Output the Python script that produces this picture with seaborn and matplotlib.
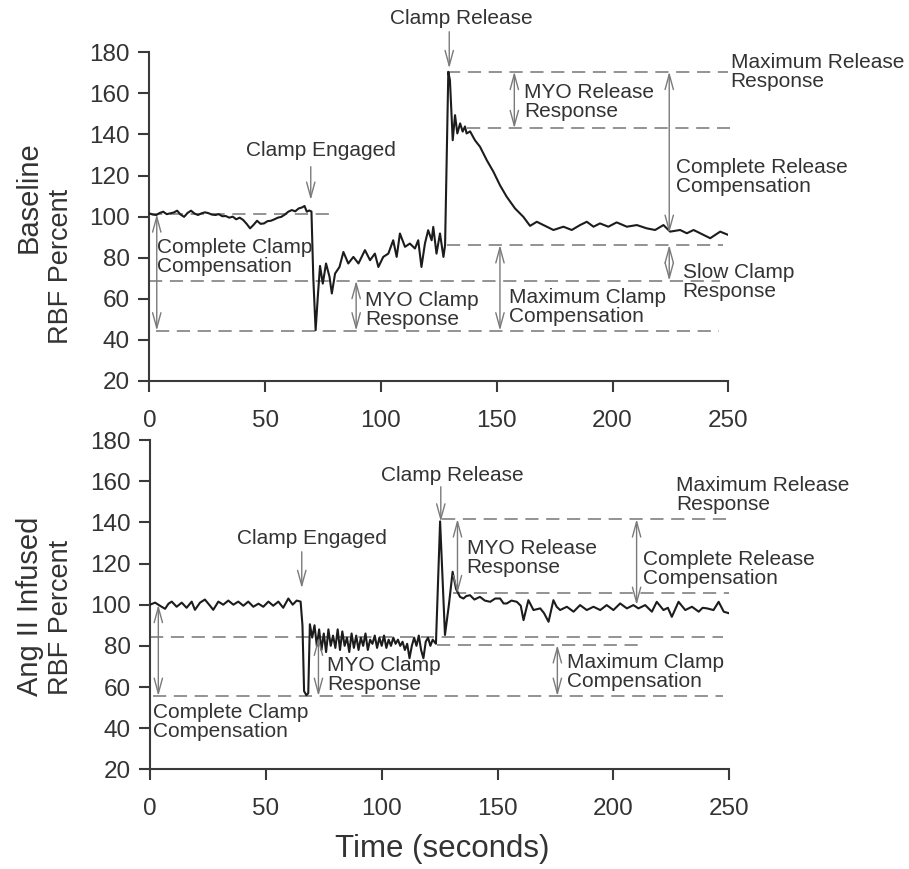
import matplotlib
matplotlib.use("Agg")
import matplotlib.pyplot as plt
import seaborn as sns
import pandas as pd

# ---------------- data ----------------
# Baseline renal blood flow trace (time in s, RBF in % of baseline)
baseline_time = [0, 1.5, 3, 4.5, 6, 7.5, 9, 10.5, 12, 13.5, 15, 16.5, 18, 19.5, 21, 22.5,
                 24, 25.5, 27, 28.5, 30, 31.5, 33, 34.5, 36, 37.5, 39, 40.5, 42, 43.5, 45,
                 46.5, 48, 49.5, 51, 52.5, 54, 55.5, 57, 58.5, 60, 61.5, 63, 64.5, 66, 67,
                 68, 69, 70, 70.8, 71.8, 72.8, 73.7, 74.9, 76.3, 77.8, 78.8, 80.2, 82.1,
                 83.8, 85.9, 88.1, 90.3, 93.1, 95.3, 97.4, 98.9, 101, 103.2, 105.3, 106.8,
                 108.2, 110.4, 112.5, 114.7, 116.1, 117.5, 119, 120.4, 121.9, 122.6, 124,
                 125.5, 127, 127.7, 129.1, 129.8, 131, 132, 133, 134.2, 135.3, 136.3, 137,
                 138.5, 140.6, 142.8, 145.7, 148.6, 151.4, 154.3, 157.9, 161.5, 164.4,
                 167.3, 170.2, 174.5, 178.8, 182.4, 186, 188.9, 191.8, 194.6, 198.2, 201.8,
                 206.2, 210.5, 214.8, 218.4, 222, 224.9, 229.2, 232.1, 235, 239.3, 242.2,
                 246.5, 250]
baseline_rbf = [101.6, 101.0, 100.8, 101.8, 102.4, 101.2, 101.6, 102.0, 102.9, 101.0, 99.9,
                101.8, 102.9, 101.5, 100.8, 101.6, 102.1, 101.7, 101.0, 100.8, 101.2, 100.2,
                100.3, 99.5, 100.0, 98.7, 99.5, 98.4, 96.5, 94.3, 96.0, 98.0, 96.5, 96.7,
                97.8, 98.0, 98.7, 99.5, 99.9, 101.0, 102.4, 103.2, 102.6, 104.0, 104.5,
                105.2, 102.4, 103.0, 102.5, 70.0, 44.7, 62.0, 76.0, 67.4, 77.2, 70.7, 62.6,
                72.3, 75.5, 82.8, 77.2, 80.4, 77.2, 83.7, 78.8, 82.0, 75.5, 80.4, 82.0, 88.5,
                80.4, 91.8, 85.3, 86.9, 84.5, 88.5, 75.5, 86.9, 93.4, 88.5, 95.0, 82.0, 91.8,
                80.4, 86.1, 170.5, 166.4, 137.2, 149.4, 140.5, 145.4, 141.4, 143.9, 140.5,
                141.5, 137.2, 134.0, 127.5, 121.8, 115.3, 109.7, 104.0, 99.9, 95.5, 97.5,
                95.9, 93.5, 95.1, 93.5, 95.9, 97.5, 95.1, 96.7, 95.1, 97.2, 95.1, 95.9, 94.3,
                93.5, 95.9, 92.7, 93.5, 91.9, 93.5, 91.1, 89.5, 92.7, 91.1]

# Ang II infused renal blood flow trace
angii_time = [0, 2.2, 4.3, 6.5, 8, 9.4, 11.5, 13.7, 15.8, 18, 19.4, 21.6, 23.7, 25.9, 27.3,
              29.5, 31.6, 33.8, 36, 38.1, 40.3, 42.4, 44.6, 46.8, 48.9, 51.1, 53.2, 55.4,
              57.5, 59.7, 61.6, 63.3, 65, 65.8, 66.5, 67.5, 68.3, 69, 70, 71, 72, 73, 74,
              75, 76, 77, 78, 79, 80, 81, 82, 83, 84, 85, 86, 87, 88, 89, 90, 91, 92, 93,
              94, 95, 96, 97, 98, 99, 100, 101, 102, 103, 104, 105, 106, 107, 108, 109,
              110, 111, 112, 113, 114, 115, 116, 117, 118, 119, 120, 121, 122, 123.4,
              125.2, 127.3, 129, 130.6, 132.1, 133.8, 135.3, 136.5, 138.1, 140, 142.4,
              144.5, 146.8, 149, 151.1, 152.6, 154, 156, 158.3, 160, 161.2, 163.3, 165.5,
              168.4, 170, 172, 174.1, 175.5, 177, 179.9, 182.8, 185.6, 188.5, 191.4,
              194.3, 197.1, 200, 202.9, 205.8, 208.6, 210.8, 213.7, 216.6, 218.7, 221.6,
              223.5, 225.2, 228.1, 231, 233.9, 236.8, 238.5, 240.4, 243.2, 245.4, 247.6,
              250]
angii_rbf = [100, 101, 99.5, 98, 100.5, 101.5, 99, 101, 98.5, 101.5, 97.5, 101, 102.5, 99.5,
             97.5, 101.5, 100, 102, 100, 101.5, 99.5, 101.5, 99, 100.5, 99, 101.5, 99.5,
             101.5, 98.5, 103, 100, 102, 101.5, 90, 58, 56, 57, 90.5, 84, 90, 80, 88, 78,
             86, 77, 88, 80, 85, 79, 88, 78, 87, 80, 84, 77, 86, 79, 85, 78, 84, 80, 86,
             78, 83, 81, 85, 79, 84, 80, 85, 79, 83, 80, 84, 81, 83, 80, 82, 78, 81, 74,
             80, 84, 80, 85, 78, 74, 82, 84, 80, 83, 81, 140.5, 85.3, 100, 116, 107.6,
             103.8, 103, 104.2, 104.6, 102.5, 103.8, 102, 101.4, 103, 103, 100.6, 100.6,
             102, 101.4, 99.5, 92.5, 102.2, 97.4, 98.2, 96, 91.7, 102.2, 99, 97.4, 99,
             96.6, 99.8, 97.4, 99, 97.4, 99.8, 97.4, 100.6, 98.2, 99.8, 98.2, 99.8, 96.6,
             101.4, 97.4, 98.5, 94.1, 101.4, 97.4, 99, 96.6, 98.5, 98.2, 97.4, 101.4,
             96.6, 95.8]

# reference levels (RBF %) and their time spans
baseline_levels = [170.6, 143.0, 101.2, 86.2, 68.8, 44.5]
baseline_level_spans = [(128.4, 250), (137, 250.7), (0, 78), (128.4, 247.8), (0, 246.4), (3, 246)]
angii_levels = [141.6, 105.5, 84.1, 80.4, 55.6]
angii_level_spans = [(125.9, 250.3), (130.9, 250), (0, 247.4), (123.7, 210.8), (1.4, 247.4)]

# ---------------- style ----------------
sns.set_style("ticks")
plt.rcParams["font.family"] = ["Liberation Sans", "DejaVu Sans"]
plt.rcParams["lines.scale_dashes"] = False

TRACE = "#1c1c1c"
GREY = "#8a8a8a"
ARROW = "#7a7a7a"
TXT = "#333333"
AX = "#3a3a3a"

fig = plt.figure(figsize=(9.09, 8.69), dpi=100)
ax_top = fig.add_axes([0.1643, 0.5616, 0.6369, 0.3782])
ax_bot = fig.add_axes([0.1650, 0.1147, 0.6373, 0.3789])

def style_axes(ax):
    ax.set_xlim(0, 250)
    ax.set_ylim(20, 180)
    ax.set_xticks([0, 50, 100, 150, 200, 250])
    ax.set_yticks(range(20, 181, 20))
    sns.despine(ax=ax)
    for s in ("left", "bottom"):
        ax.spines[s].set_color(AX)
        ax.spines[s].set_linewidth(1.5)
    ax.tick_params(axis="both", direction="out", length=8, width=1.5, color=AX,
                   labelsize=17.5, labelcolor=TXT)
    ax.tick_params(axis="x", pad=13)
    ax.tick_params(axis="y", pad=6)
    ax.set_xlabel("")
    ax.set_ylabel("")

def draw_trace(ax, t, v):
    df = pd.DataFrame({"time": t, "rbf": v})
    sns.lineplot(data=df, x="time", y="rbf", ax=ax, color=TRACE, lw=1.5,
                 estimator=None, sort=False, zorder=3)

def draw_levels(ax, levels, spans):
    for lv, (a, b) in zip(levels, spans):
        ax.plot([a, b], [lv, lv], color=GREY, lw=1.3, dashes=(9.5, 5.5),
                zorder=2, clip_on=False)

def span_arrow(ax, t, v0, v1):
    ax.annotate("", xy=(t, v1), xytext=(t, v0),
                arrowprops=dict(arrowstyle="<->,head_length=1.1,head_width=0.3",
                                color=ARROW, lw=1.0, shrinkA=0, shrinkB=0),
                annotation_clip=False, zorder=4)

def down_arrow(ax, t, v0, v1):
    ax.annotate("", xy=(t, v1), xytext=(t, v0),
                arrowprops=dict(arrowstyle="->,head_length=1.1,head_width=0.3",
                                color=ARROW, lw=1.0, shrinkA=0, shrinkB=0),
                annotation_clip=False, zorder=4)

def label(ax, t, v, s, ha="left"):
    ax.text(t, v, s, ha=ha, va="center", fontsize=15, color=TXT,
            linespacing=1.0, clip_on=False, zorder=5)

# ---------------- baseline panel ----------------
draw_levels(ax_top, baseline_levels, baseline_level_spans)
draw_trace(ax_top, baseline_time, baseline_rbf)
style_axes(ax_top)
span_arrow(ax_top, 3.2, 101.2, 44.5)
span_arrow(ax_top, 89.3, 68.8, 44.5)
span_arrow(ax_top, 151.4, 86.2, 44.5)
span_arrow(ax_top, 157.6, 170.6, 143.0)
span_arrow(ax_top, 224.5, 170.6, 92.0)
span_arrow(ax_top, 224.5, 86.2, 68.8)
down_arrow(ax_top, 69.7, 124.3, 108.1)
down_arrow(ax_top, 129.5, 190.0, 172.2)
label(ax_top, 74.3, 132.2, "Clamp Engaged", ha="center")
label(ax_top, 134.7, 196.6, "Clamp Release", ha="center")
label(ax_top, 3.1, 80.4, "Complete Clamp\nCompensation")
label(ax_top, 93.1, 54.6, "MYO Clamp\nResponse")
label(ax_top, 155.5, 56.2, "Maximum Clamp\nCompensation")
label(ax_top, 161.8, 155.7, "MYO Release\nResponse")
label(ax_top, 227.4, 119.5, "Complete Release\nCompensation")
label(ax_top, 251.0, 170.4, "Maximum Release\nResponse")
label(ax_top, 230.3, 68.0, "Slow Clamp\nResponse")

# ---------------- Ang II panel ----------------
draw_levels(ax_bot, angii_levels, angii_level_spans)
draw_trace(ax_bot, angii_time, angii_rbf)
style_axes(ax_bot)
span_arrow(ax_bot, 3.6, 100.0, 55.6)
span_arrow(ax_bot, 72.7, 84.1, 55.6)
span_arrow(ax_bot, 132.7, 141.6, 105.5)
span_arrow(ax_bot, 210.0, 141.6, 99.8)
span_arrow(ax_bot, 175.8, 80.4, 55.6)
down_arrow(ax_bot, 65.5, 125.7, 108.0)
down_arrow(ax_bot, 125.5, 157.3, 140.3)
label(ax_bot, 69.9, 132.2, "Clamp Engaged", ha="center")
label(ax_bot, 130.6, 163.0, "Clamp Release", ha="center")
label(ax_bot, 1.1, 43.0, "Complete Clamp\nCompensation")
label(ax_bot, 76.5, 66.0, "MYO Clamp\nResponse")
label(ax_bot, 136.7, 122.5, "MYO Release\nResponse")
label(ax_bot, 212.9, 117.4, "Complete Release\nCompensation")
label(ax_bot, 179.8, 67.3, "Maximum Clamp\nCompensation")
label(ax_bot, 227.0, 153.1, "Maximum Release\nResponse")

# ---------------- axis titles ----------------
W, H = 909, 869
def fig_text(xp, yp, s, size, rot=0):
    fig.text(xp / W, 1 - yp / H, s, rotation=rot, ha="center", va="center",
             fontsize=size, color=TXT)

fig_text(29, 197, "Baseline", 21, 90)
fig_text(61, 266, "RBF Percent", 19.5, 90)
fig_text(30, 606, "Ang II Infused", 21, 90)
fig_text(61, 617, "RBF Percent", 19.5, 90)
fig_text(442, 849, "Time (seconds)", 22.5)

fig.savefig("out.png", dpi=100)
